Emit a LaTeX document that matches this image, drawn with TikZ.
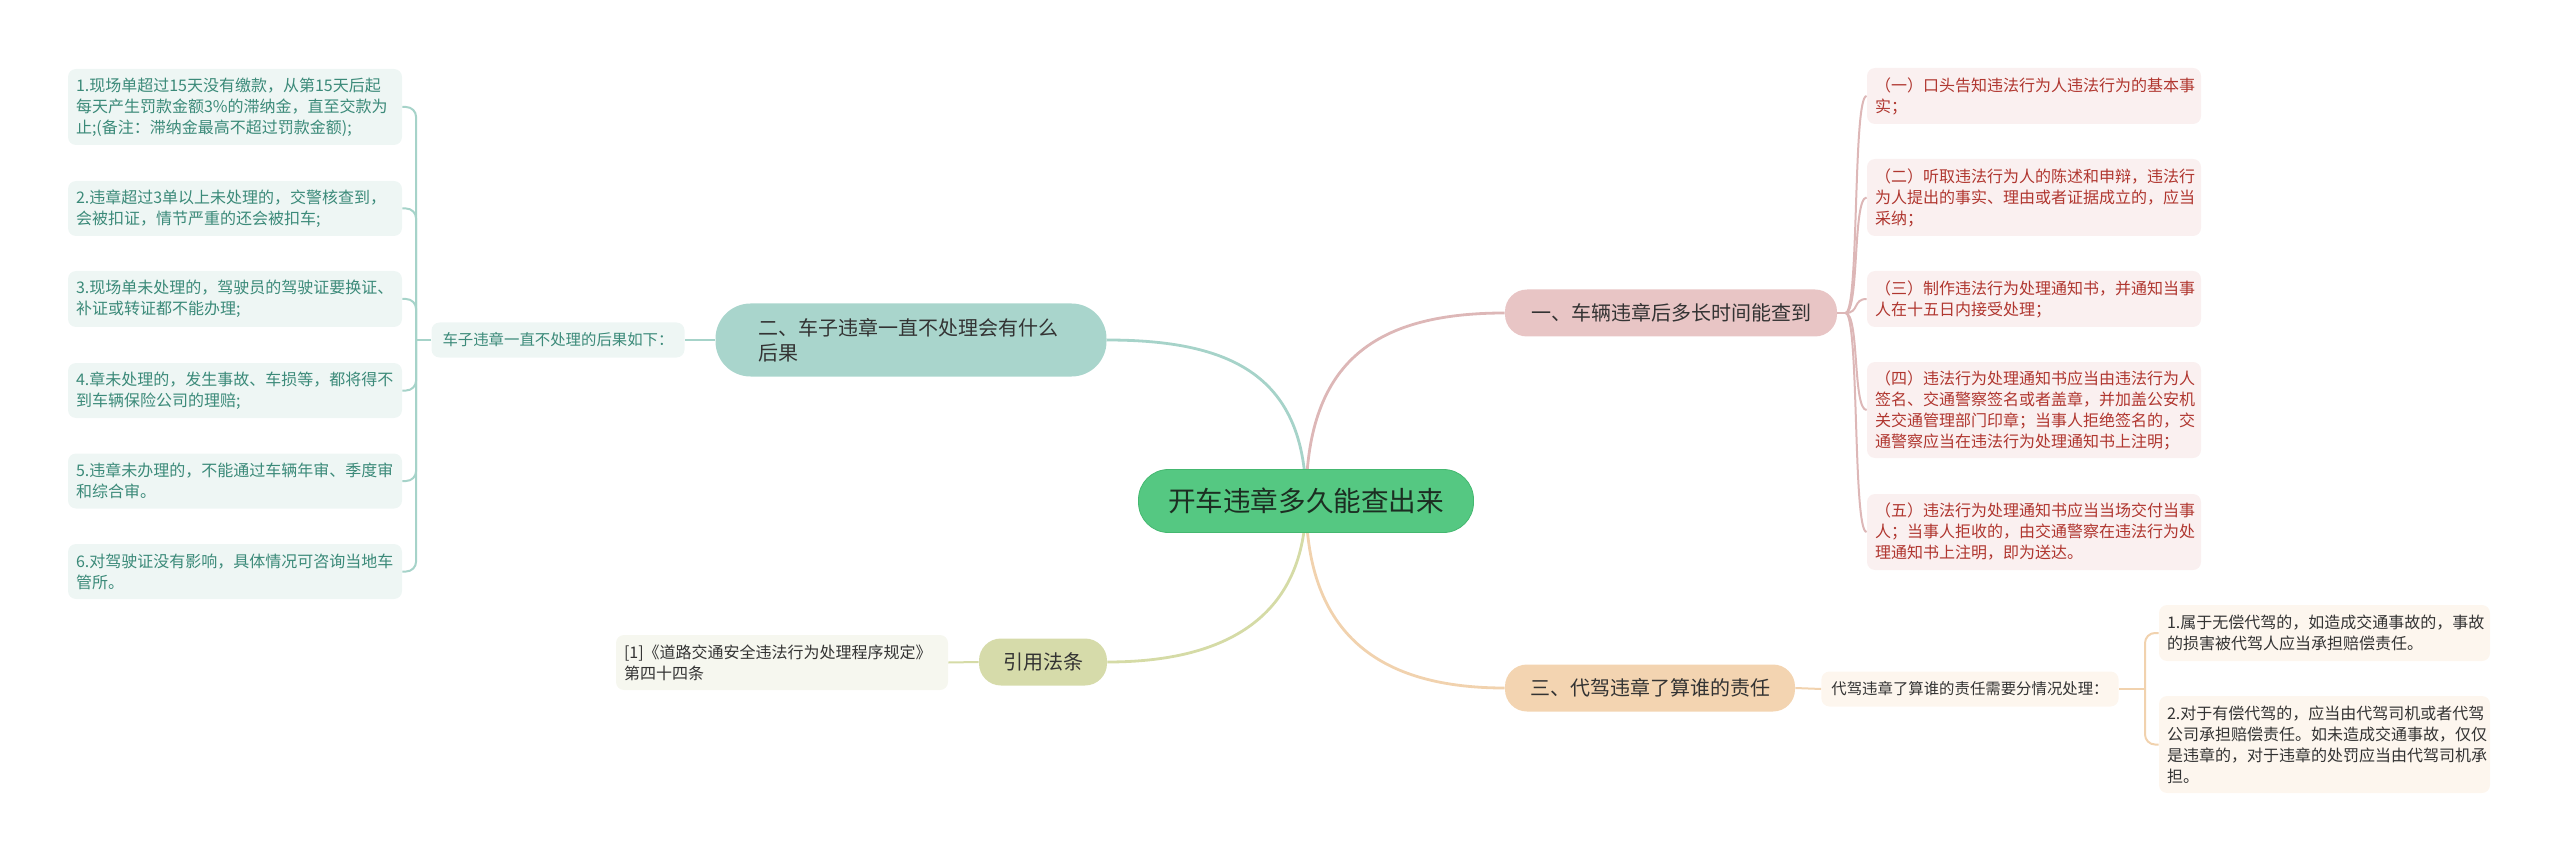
\documentclass[tikz,border=0pt]{standalone}
\usepackage{fontspec}
\setmainfont{Noto Sans CJK SC}
\usetikzlibrary{positioning}
\usetikzlibrary{backgrounds}
\definecolor{rootfill}{HTML}{55C882}
\definecolor{rootedge}{HTML}{44B870}
\definecolor{roottext}{HTML}{1C2E22}
\definecolor{tealfill}{HTML}{A9D5CC}
\definecolor{tealline}{HTML}{A6D3C9}
\definecolor{tealleaf}{HTML}{EEF6F4}
\definecolor{tealtext}{HTML}{3B8A79}
\definecolor{pinkfill}{HTML}{E8C5C5}
\definecolor{pinkline}{HTML}{DDB7B7}
\definecolor{pinkleaf}{HTML}{FAF0F0}
\definecolor{redtext}{HTML}{B0362F}
\definecolor{olivefill}{HTML}{D6DBAA}
\definecolor{oliveline}{HTML}{D5DBA6}
\definecolor{oliveleaf}{HTML}{F6F7EF}
\definecolor{peachfill}{HTML}{F3D4B1}
\definecolor{peachline}{HTML}{F1D2AE}
\definecolor{peachleaf}{HTML}{FDF6EE}
\definecolor{darktext}{HTML}{333333}

\begin{document}
\begin{tikzpicture}[
    x=0.5pt, y=-0.5pt,
    root/.style={
        draw=rootedge, fill=rootfill, text=roottext,
        rounded corners=15pt,
        minimum width=167.5pt, minimum height=31.5pt,
        font=\fontsize{13.8pt}{16.5pt}\selectfont
    },
    topic/.style={
        rounded corners=11pt, text=darktext,
        minimum height=23.5pt, inner sep=0pt,
        font=\fontsize{10pt}{12.5pt}\selectfont
    },
    tag/.style={
        rounded corners=4pt, inner xsep=5pt,
        minimum height=17.5pt,
        font=\fontsize{7.7pt}{9pt}\selectfont
    },
    leaf/.style={
        rounded corners=4pt, align=left,
        text width=159pt, inner xsep=4pt, inner ysep=0pt,
        font=\fontsize{8pt}{10.5pt}\selectfont
    },
    link/.style={line width=1.4pt},
    twig/.style={line width=1pt}
]
\useasboundingbox (0,0) rectangle (2560,861);

\node[root] (root) at (1306,501) {开车违章多久能查出来};

% first level
\node[topic, fill=pinkfill, minimum width=166pt] (one) at (1671,313) {一、车辆违章后多长时间能查到};
\node[topic, fill=tealfill, minimum width=195.5pt, minimum height=36.5pt,
      rounded corners=17.5pt, text width=153pt, align=left,
      font=\fontsize{10pt}{12.5pt}\selectfont] (two) at (911,340) {二、车子违章一直不处理会有什么\\后果};
\node[topic, fill=peachfill, minimum width=145pt] (three) at (1650,688) {三、代驾违章了算谁的责任};
\node[topic, fill=olivefill, minimum width=64pt] (cite) at (1043,662) {引用法条};

% tags
\node[tag, fill=tealleaf, text=tealtext, minimum width=126.5pt] (twotag) at (558,340) {车子违章一直不处理的后果如下：};
\node[tag, fill=peachleaf, text=darktext, minimum width=143.5pt] (threetag) at (1970,689) {代驾违章了算谁的责任需要分情况处理：};

% leaves of one
\node[leaf, fill=pinkleaf, text=redtext, minimum height=28pt] (one1) at (2034,96) {（一）口头告知违法行为人违法行为的基本事\\实；};
\node[leaf, fill=pinkleaf, text=redtext, minimum height=38.5pt] (one2) at (2034,197.5) {（二）听取违法行为人的陈述和申辩，违法行\\为人提出的事实、理由或者证据成立的，应当\\采纳；};
\node[leaf, fill=pinkleaf, text=redtext, minimum height=28pt] (one3) at (2034,299) {（三）制作违法行为处理通知书，并通知当事\\人在十五日内接受处理；};
\node[leaf, fill=pinkleaf, text=redtext, minimum height=48pt] (one4) at (2034,410) {（四）违法行为处理通知书应当由违法行为人\\签名、交通警察签名或者盖章，并加盖公安机\\关交通管理部门印章；当事人拒绝签名的，交\\通警察应当在违法行为处理通知书上注明；};
\node[leaf, fill=pinkleaf, text=redtext, minimum height=38pt] (one5) at (2034,532) {（五）违法行为处理通知书应当当场交付当事\\人；当事人拒收的，由交通警察在违法行为处\\理通知书上注明，即为送达。};

% leaves of two
\node[leaf, fill=tealleaf, text=tealtext, minimum height=38pt] (two1) at (235,107) {1.现场单超过15天没有缴款，从第15天后起\\每天产生罚款金额3\%的滞纳金，直至交款为\\止;(备注：滞纳金最高不超过罚款金额);};
\node[leaf, fill=tealleaf, text=tealtext, minimum height=27.5pt] (two2) at (235,208.5) {2.违章超过3单以上未处理的，交警核查到，\\会被扣证，情节严重的还会被扣车;};
\node[leaf, fill=tealleaf, text=tealtext, minimum height=28pt] (two3) at (235,299) {3.现场单未处理的，驾驶员的驾驶证要换证、\\补证或转证都不能办理;};
\node[leaf, fill=tealleaf, text=tealtext, minimum height=27.5pt] (two4) at (235,390.5) {4.章未处理的，发生事故、车损等，都将得不\\到车辆保险公司的理赔;};
\node[leaf, fill=tealleaf, text=tealtext, minimum height=27.5pt] (two5) at (235,481) {5.违章未办理的，不能通过车辆年审、季度审\\和综合审。};
\node[leaf, fill=tealleaf, text=tealtext, minimum height=27.5pt] (two6) at (235,571.5) {6.对驾驶证没有影响，具体情况可咨询当地车\\管所。};

% leaves of three
\node[leaf, fill=peachleaf, text=darktext, text width=157.5pt, minimum height=28pt] (three1) at (2324.5,633) {1.属于无偿代驾的，如造成交通事故的，事故\\的损害被代驾人应当承担赔偿责任。};
\node[leaf, fill=peachleaf, text=darktext, text width=157.5pt, minimum height=48.5pt] (three2) at (2324.5,744.5) {2.对于有偿代驾的，应当由代驾司机或者代驾\\公司承担赔偿责任。如未造成交通事故，仅仅\\是违章的，对于违章的处罚应当由代驾司机承\\担。};

% leaf of cite
\node[leaf, fill=oliveleaf, text=darktext, text width=158pt, minimum height=27.5pt] (cite1) at (782,662.5) {[1]《道路交通安全违法行为处理程序规定》\\第四十四条};

\begin{scope}[on background layer]
\draw[link, tealline] (root.center) .. controls +(0,-125) and +(125,0) .. (two.east);
\draw[link, pinkline] (root.center) .. controls +(0,-135) and +(-135,0) .. (one.west);
\draw[link, oliveline] (root.center) .. controls +(0,115) and +(120,0) .. (cite.east);
\draw[link, peachline] (root.center) .. controls +(0,125) and +(-135,0) .. (three.west);
\end{scope}

\draw[twig, tealline] (two.west) -- (twotag.east);
\draw[twig, tealline] (twotag.west) -- ++(-15,0) coordinate (twofork);
\foreach \i in {1,...,6}
    \draw[twig, tealline, rounded corners=5pt] (twofork) |- (two\i.east);

\draw[twig, pinkline] (one.east) -- ++(8,0) coordinate (onefork);
\foreach \i in {1,...,5}
    \draw[twig, pinkline] (onefork) .. controls +(14,0) and +(-14,0) .. (one\i.west);

\draw[twig, peachline] (three.east) -- (threetag.west);
\draw[twig, peachline] (threetag.east) -- ++(26,0) coordinate (threefork);
\foreach \i in {1,2}
    \draw[twig, peachline, rounded corners=5pt] (threefork) |- (three\i.west);

\draw[twig, oliveline] (cite.west) -- (cite1.east);
\end{tikzpicture}
\end{document}
